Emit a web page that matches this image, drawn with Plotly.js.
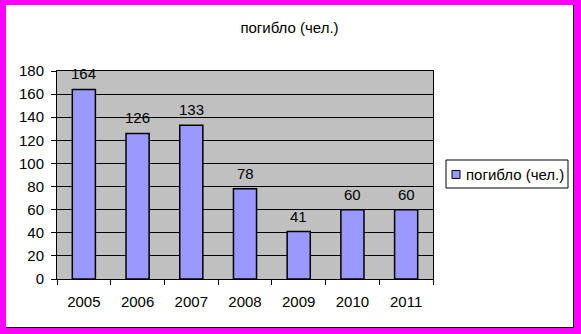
<!DOCTYPE html>
<html>
<head>
<meta charset="utf-8">
<script src="https://cdn.plot.ly/plotly-3.0.1.min.js"></script>
<style>
  html, body { margin: 0; padding: 0; background: #FF00FF; width: 581px; height: 334px; overflow: hidden; }
  #chart { position: absolute; left: 6px; top: 5px; width: 567px; height: 322px; background: #fff;
           border-right: 1px solid #000; border-bottom: 1px solid #000; }
</style>
</head>
<body>
<div id="chart"></div>
<script>
const years = ['2005', '2006', '2007', '2008', '2009', '2010', '2011'];
const killed = [164, 126, 133, 78, 41, 60, 60];
const seriesName = 'погибло (чел.)';
const chartTitle = 'погибло (чел.)';
const yTicks = [0, 20, 40, 60, 80, 100, 120, 140, 160, 180];

const fnt = { family: 'Arial, "Liberation Sans", sans-serif', size: 15, color: '#000' };

const trace = {
  type: 'bar',
  x: years,
  y: killed,
  name: seriesName,
  marker: { color: '#9999FF', line: { color: '#000', width: 1.5 } },
  showlegend: false
};

// value labels above bars, placed via data coordinates (category index)
const valueLabels = years.map((yr, i) => ({
  x: i, y: killed[i], xref: 'x', yref: 'y',
  text: String(killed[i]), showarrow: false,
  yanchor: 'bottom', yshift: 5, font: fnt
}));

// plot area: 376 x 208 px
const PW = 376, PH = 208;
const legL = 440, legR = 562, legT = 155, legB = 183; // px in div coords
const ml = 51, mt = 66;
const px = v => (v - ml) / PW;
const py = v => (mt + PH - v) / PH;

const legendAnn = {
  xref: 'paper', yref: 'paper',
  x: px(legL + 18), y: py((legT + legB) / 2),
  xanchor: 'left', yanchor: 'middle',
  text: seriesName, showarrow: false, font: fnt
};

const shapes = [
  { type: 'rect', xref: 'paper', yref: 'paper', x0: px(legL), x1: px(legR), y0: py(legB), y1: py(legT),
    line: { color: '#000', width: 1 }, fillcolor: '#fff', layer: 'above' },
  { type: 'rect', xref: 'paper', yref: 'paper', x0: px(legL + 6), x1: px(legL + 14), y0: py(173.5), y1: py(165.5),
    line: { color: '#000', width: 1 }, fillcolor: '#9999FF', layer: 'above' }
];

const layout = {
  width: 567, height: 322,
  margin: { l: ml, r: 567 - ml - PW, t: mt, b: 322 - mt - PH, pad: 0 },
  paper_bgcolor: '#fff',
  plot_bgcolor: '#C0C0C0',
  font: fnt,
  title: { text: chartTitle, font: fnt, x: 0.5, xanchor: 'center', xref: 'container', y: 0.93, yanchor: 'middle' },
  bargap: 0.57,
  showlegend: false,
  annotations: valueLabels.concat([legendAnn]),
  shapes: shapes,
  xaxis: {
    type: 'category',
    showline: true, linecolor: '#000', linewidth: 1, mirror: true,
    ticks: 'outside', tickson: 'boundaries', ticklen: 5, tickcolor: '#000',
    showgrid: false, tickfont: fnt, ticklabelstandoff: 9
  },
  yaxis: {
    range: [0, 180], tickvals: yTicks, ticktext: yTicks.map(String),
    showline: true, linecolor: '#000', linewidth: 1, mirror: true,
    ticks: 'outside', ticklen: 5, tickcolor: '#000',
    showgrid: true, gridcolor: '#000', gridwidth: 1,
    zeroline: false, tickfont: fnt, ticklabelstandoff: 4
  }
};

Plotly.newPlot('chart', [trace], layout, { staticPlot: true, displayModeBar: false });
</script>
</body>
</html>
